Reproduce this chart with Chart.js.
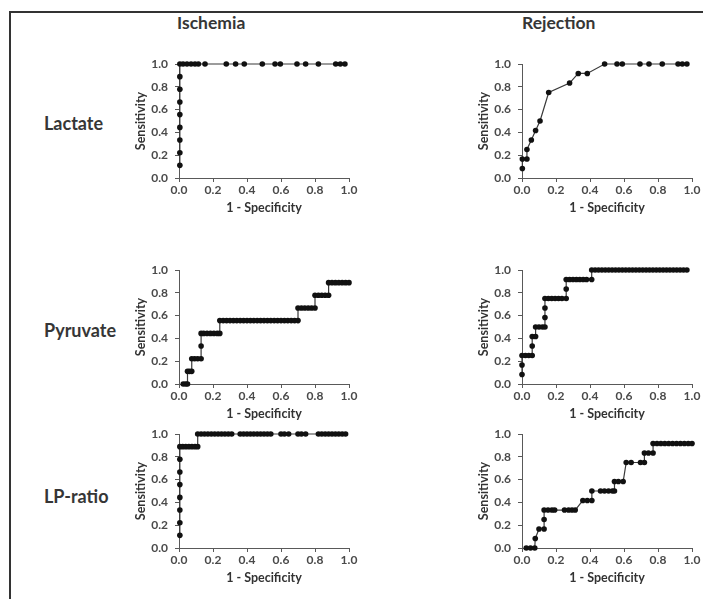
<!DOCTYPE html>
<html><head><meta charset="utf-8">
<script src="https://cdn.jsdelivr.net/npm/chart.js@4.4.0/dist/chart.umd.min.js"></script>
<style>
html,body{margin:0;padding:0;background:#fff;}
body{width:703px;height:599px;position:relative;overflow:hidden;font-family:Lato,'Open Sans',sans-serif;}
.frame{position:absolute;left:9px;top:11px;width:720px;height:620px;border-left:2px solid #333;border-top:2px solid #333;}
.lbl{position:absolute;font-weight:bold;line-height:20px;color:#363636;white-space:nowrap;}
canvas{position:absolute;}
</style></head><body>
<div class="frame"></div>
<div id="labels"></div>
<script>
// ---- data ----
const columnTitles = ['Ischemia', 'Rejection'];
const rowLabels = ['Lactate', 'Pyruvate', 'LP-ratio'];
const xAxisTitle = '1 - Specificity';
const yAxisTitle = 'Sensitivity';
const tickValues = [0, 0.2, 0.4, 0.6, 0.8, 1.0];

const ischLactateFpr = [0.005,0.005,0.005,0.005,0.005,0.005,0.005,0.005,0.005,0.024,0.047,0.071,0.094,0.114,0.153,0.278,0.333,0.384,0.49,0.565,0.596,0.694,0.745,0.82,0.922,0.949,0.976];
const ischLactateSens = [0.111,0.222,0.333,0.444,0.556,0.667,0.778,0.889,1,1,1,1,1,1,1,1,1,1,1,1,1,1,1,1,1,1,1];

const rejLactateFpr = [0.002,0.002,0.029,0.029,0.055,0.08,0.106,0.157,0.28,0.331,0.384,0.486,0.559,0.59,0.694,0.747,0.825,0.918,0.943,0.97];
const rejLactateSens = [0.083,0.167,0.167,0.25,0.333,0.417,0.5,0.75,0.833,0.917,0.917,1,1,1,1,1,1,1,1,1];

const ischPyruvateFpr = [0.025,0.04,0.05, 0.05,0.062,0.075, 0.075,0.092,0.11,0.13, 0.13, 0.13,0.145,0.165,0.185,0.205,0.225,0.24,
  0.24,0.26,0.28,0.30,0.32,0.34,0.36,0.38,0.40,0.42,0.44,0.46,0.48,0.50,0.52,0.54,0.56,0.58,0.60,0.62,0.64,0.66,0.68,0.70,
  0.70,0.72,0.74,0.76,0.78,0.80, 0.80,0.82,0.84,0.86,0.88, 0.88,0.90,0.92,0.94,0.96,0.98,1.0];
const ischPyruvateSens = [0,0,0, 0.111,0.111,0.111, 0.222,0.222,0.222,0.222, 0.333, 0.444,0.444,0.444,0.444,0.444,0.444,0.444,
  0.556,0.556,0.556,0.556,0.556,0.556,0.556,0.556,0.556,0.556,0.556,0.556,0.556,0.556,0.556,0.556,0.556,0.556,0.556,0.556,0.556,0.556,0.556,0.556,
  0.667,0.667,0.667,0.667,0.667,0.667, 0.778,0.778,0.778,0.778,0.778, 0.889,0.889,0.889,0.889,0.889,0.889,0.889];

const rejPyruvateFpr = [0,0,0,0.02,0.04,0.06,0.06,0.06,0.08,0.08,0.10,0.12,0.135,0.135,0.135,0.135,
  0.155,0.175,0.195,0.215,0.235,0.26, 0.26,
  0.26,0.28,0.30,0.32,0.34,0.36,0.38,0.41,
  0.41,0.43,0.45,0.47,0.49,0.51,0.53,0.55,0.57,0.59,0.61,0.63,0.65,0.67,0.69,0.71,0.73,0.75,0.77,0.79,0.81,0.83,0.85,0.87,0.89,0.91,0.93,0.95,0.97];
const rejPyruvateSens = [0.083,0.167,0.25,0.25,0.25,0.25,0.333,0.417,0.417,0.5,0.5,0.5,0.5,0.583,0.667,0.75,
  0.75,0.75,0.75,0.75,0.75,0.75, 0.833,
  0.917,0.917,0.917,0.917,0.917,0.917,0.917,0.917,
  1,1,1,1,1,1,1,1,1,1,1,1,1,1,1,1,1,1,1,1,1,1,1,1,1,1,1,1,1];

const ischLpFpr = [0.005,0.005,0.005,0.005,0.005,0.005,0.005,0.005,
  0.022,0.04,0.058,0.076,0.094,0.11, 0.11,
  0.13,0.15,0.17,0.19,0.21,0.23,0.25,0.27,0.29,0.31,
  0.36,0.38,0.40,0.42,0.44,0.46,0.48,0.50,0.52,0.54,
  0.60,0.62,0.645, 0.70,0.72,0.745,
  0.82,0.84,0.86,0.88,0.90,0.92,0.94,0.96,0.98];
const ischLpSens = [0.111,0.222,0.333,0.444,0.556,0.667,0.778,0.889,
  0.889,0.889,0.889,0.889,0.889,0.889, 1,
  1,1,1,1,1,1,1,1,1,1,
  1,1,1,1,1,1,1,1,1,1,
  1,1,1, 1,1,1,
  1,1,1,1,1,1,1,1,1];

const rejLpFpr = [0.025,0.05,0.075, 0.078, 0.1,0.13, 0.13,
  0.13,0.153,0.176,0.192,0.25,0.274,0.294,0.313,
  0.358,0.384,0.411,
  0.411,0.462,0.485,0.509,0.532,0.544,
  0.544,0.567,0.595,
  0.613,0.642,0.697,0.72,
  0.72,0.744,0.771,
  0.771,0.794,0.817,0.84,0.863,0.886,0.909,0.932,0.955,0.978,1.0];
const rejLpSens = [0,0,0, 0.083, 0.167,0.167, 0.25,
  0.333,0.333,0.333,0.333,0.333,0.333,0.333,0.333,
  0.417,0.417,0.417,
  0.5,0.5,0.5,0.5,0.5,0.5,
  0.583,0.583,0.583,
  0.75,0.75,0.75,0.75,
  0.833,0.833,0.833,
  0.917,0.917,0.917,0.917,0.917,0.917,0.917,0.917,0.917,0.917,0.917];

// ---- layout ----
const colPlotLeft = [179, 522];
const rowPlotTop = [64, 270, 434];
const plotW = 170, plotH = 114;
const yAxisW = 46, xAxisH = 37, padTop = 18, padRight = 14;

const panels = [
  {row:0,col:0,fpr:ischLactateFpr,sens:ischLactateSens},
  {row:0,col:1,fpr:rejLactateFpr,sens:rejLactateSens},
  {row:1,col:0,fpr:ischPyruvateFpr,sens:ischPyruvateSens},
  {row:1,col:1,fpr:rejPyruvateFpr,sens:rejPyruvateSens},
  {row:2,col:0,fpr:ischLpFpr,sens:ischLpSens},
  {row:2,col:1,fpr:rejLpFpr,sens:rejLpSens}
];

// labels (HTML text)
const labels = document.getElementById('labels');
function addLabel(text, left, top, size) {
  const d = document.createElement('div');
  d.className = 'lbl'; d.textContent = text;
  d.style.left = left + 'px'; d.style.top = top + 'px';
  d.style.fontSize = size + 'px';
  labels.appendChild(d);
}
addLabel(columnTitles[0], 177, 12.5, 17.5);
addLabel(columnTitles[1], 522, 12.5, 17.5);
const rowLabelTops = [112.5, 320, 486];
rowLabels.forEach((t, i) => addLabel(t, 44, rowLabelTops[i], 18));

const tickFont = {family: 'Lato', weight: 'bold', size: 12};
const titleFont = {family: 'Lato', weight: 'bold', size: 12.5};

panels.forEach(p => {
  const c = document.createElement('canvas');
  const W = yAxisW + plotW + padRight, H = padTop + plotH + xAxisH;
  c.width = W; c.height = H;
  c.style.left = (colPlotLeft[p.col] - yAxisW) + 'px';
  c.style.top = (rowPlotTop[p.row] - padTop) + 'px';
  c.style.width = W + 'px'; c.style.height = H + 'px';
  document.body.appendChild(c);
  const pts = p.fpr.map((x, i) => ({x: x, y: p.sens[i]}));
  new Chart(c, {
    type: 'scatter',
    data: {datasets: [{
      data: pts, showLine: true, clip: false,
      borderColor: '#3a3a3a', borderWidth: 1.2,
      pointRadius: 2.8, pointBackgroundColor: '#111', pointBorderWidth: 0,
      pointHoverRadius: 2.8
    }]},
    options: {
      responsive: false, animation: false, devicePixelRatio: 1,
      layout: {padding: {top: padTop, right: padRight, left: 0, bottom: 0}},
      plugins: {legend: {display: false}, tooltip: {enabled: false}},
      scales: {
        x: {
          type: 'linear', min: 0, max: 1,
          afterFit: s => { s.height = xAxisH; },
          afterBuildTicks: s => { s.ticks = tickValues.map(v => ({value: v})); },
          ticks: {font: tickFont, color: '#4a4a4a', padding: 1, maxRotation: 0,
            callback: v => Number(v).toFixed(1)},
          grid: {display: true, drawOnChartArea: false, drawTicks: true, tickLength: 4, color: '#595959'},
          border: {display: true, color: '#595959', width: 1},
          title: {display: true, text: xAxisTitle, font: titleFont, color: '#333', padding: 0}
        },
        y: {
          type: 'linear', min: 0, max: 1,
          afterFit: s => { s.width = yAxisW; },
          afterBuildTicks: s => { s.ticks = tickValues.map(v => ({value: v})); },
          ticks: {font: tickFont, color: '#4a4a4a', padding: 7,
            callback: v => Number(v).toFixed(1)},
          grid: {display: true, drawOnChartArea: false, drawTicks: true, tickLength: 4, color: '#595959'},
          border: {display: true, color: '#595959', width: 1},
          title: {display: true, text: yAxisTitle, font: titleFont, color: '#333', padding: 0}
        }
      }
    }
  });
});
</script>
</body></html>
